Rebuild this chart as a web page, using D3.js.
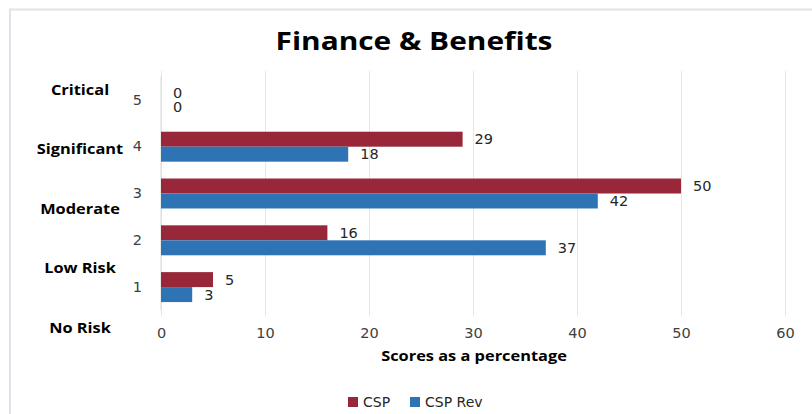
<!DOCTYPE html>
<html>
<head>
<meta charset="utf-8">
<script src="https://cdn.jsdelivr.net/npm/d3@7"></script>
<style>
  body { margin: 0; background: #fff; }
  svg { display: block; }
</style>
</head>
<body>
<div id="chart"></div>
<script>
// Data
const levels = [1, 2, 3, 4, 5];
const seriesNames = ["CSP", "CSP Rev"];
const cspValues = [5, 16, 50, 29, 0];
const cspRevValues = [3, 37, 42, 18, 0];
const riskLabels = ["No Risk", "Low Risk", "Moderate", "Significant", "Critical"];
const xTicks = [0, 10, 20, 30, 40, 50, 60];

const colors = ["#98273a", "#2e74b5"];

const width = 812;
const height = 414;
const marginTop = 76.5;
const marginBottom = 103.5;
const marginLeft = 161;
const marginRight = 27;

// the original picture is a little stretched sideways
const stretch = 1.17;

const rows = levels.map((lv, i) => ({
  level: lv,
  values: [cspValues[i], cspRevValues[i]]
}));

const svg = d3.select("#chart").append("svg")
    .attr("width", width)
    .attr("height", height);

// frame of the chart area (cut by the window on right and bottom)
svg.append("rect")
    .attr("x", 10).attr("y", 9.5)
    .attr("width", 900).attr("height", 500)
    .attr("fill", "none")
    .attr("stroke", "#dde3ea")
    .attr("stroke-width", 2);

const x = d3.scaleLinear()
    .domain([0, 60])
    .range([marginLeft, width - marginRight]);

const y = d3.scaleBand()
    .domain(levels.slice().reverse())
    .range([marginTop, height - marginBottom])
    .paddingInner(0.36)
    .paddingOuter(0.18);

const ySub = d3.scaleBand()
    .domain(d3.range(seriesNames.length))
    .range([0, y.bandwidth()]);

const boldFont = "'Open Sans', Lato, sans-serif";
const numFont = "'DejaVu Sans', Verdana, sans-serif";

// title
svg.append("text")
    .attr("transform", `translate(414,50) scale(${stretch},1)`)
    .attr("text-anchor", "middle")
    .attr("font-family", boldFont)
    .attr("font-weight", "bold")
    .attr("font-size", 25.5)
    .attr("fill", "#000")
    .text("Finance & Benefits");

// vertical gridlines + bottom tick labels
svg.append("g")
    .attr("transform", `translate(0,${height - marginBottom + 6})`)
    .call(d3.axisBottom(x).tickValues(xTicks).tickSize(-(height - marginBottom - marginTop + 12)).tickPadding(11))
    .call(g => g.select(".domain").remove())
    .call(g => g.selectAll(".tick line").attr("stroke", "#e4e7ec"))
    .call(g => g.selectAll(".tick text")
        .attr("font-family", numFont)
        .attr("font-size", 14.5)
        .attr("fill", "#404040"));

// left axis with level numbers
svg.append("g")
    .attr("transform", `translate(${marginLeft},0)`)
    .call(d3.axisLeft(y).tickSize(0).tickPadding(19))
    .call(g => g.select(".domain").attr("stroke", "#d9d9d9").attr("d", `M0,${marginTop}V${height - marginBottom}`))
    .call(g => g.selectAll(".tick text")
        .attr("font-family", numFont)
        .attr("font-size", 14.5)
        .attr("fill", "#404040"));

// bars
const groups = svg.append("g")
  .selectAll("g")
  .data(rows)
  .join("g")
    .attr("transform", d => `translate(0,${y(d.level)})`);

groups.selectAll("rect")
  .data(d => d.values)
  .join("rect")
    .attr("x", x(0))
    .attr("y", (d, i) => ySub(i))
    .attr("width", d => x(d) - x(0))
    .attr("height", ySub.bandwidth())
    .attr("fill", (d, i) => colors[i]);

groups.selectAll("text")
  .data(d => d.values)
  .join("text")
    .attr("x", d => x(d) + 12)
    .attr("y", (d, i) => ySub(i) + ySub.bandwidth() / 2)
    .attr("dy", "0.35em")
    .attr("font-family", numFont)
    .attr("font-size", 14.5)
    .attr("fill", "#262626")
    .text(d => d);

// risk names on the left
const yRisk = d3.scalePoint()
    .domain(riskLabels)
    .range([328, 90]);

svg.append("g")
  .selectAll("text")
  .data(riskLabels)
  .join("text")
    .attr("transform", d => `translate(80,${yRisk(d)}) scale(${stretch},1)`)
    .attr("dy", "0.35em")
    .attr("text-anchor", "middle")
    .attr("font-family", boldFont)
    .attr("font-weight", "bold")
    .attr("font-size", 14)
    .attr("fill", "#000")
    .text(d => d);

// x axis title
svg.append("text")
    .attr("transform", `translate(474,361) scale(${stretch},1)`)
    .attr("text-anchor", "middle")
    .attr("font-family", boldFont)
    .attr("font-weight", "bold")
    .attr("font-size", 14)
    .attr("fill", "#000")
    .text("Scores as a percentage");

// legend
const legend = svg.append("g")
    .attr("transform", "translate(348,402)");

const legendX = d3.scaleOrdinal()
    .domain(seriesNames)
    .range([0, 62]);

const item = legend.selectAll("g")
  .data(seriesNames)
  .join("g")
    .attr("transform", d => `translate(${legendX(d)},0)`);

item.append("rect")
    .attr("x", 0).attr("y", -5)
    .attr("width", 10).attr("height", 10)
    .attr("fill", (d, i) => colors[i]);

item.append("text")
    .attr("x", 15)
    .attr("dy", "0.35em")
    .attr("font-family", numFont)
    .attr("font-size", 14)
    .attr("fill", "#262626")
    .text(d => d);
</script>
</body>
</html>
